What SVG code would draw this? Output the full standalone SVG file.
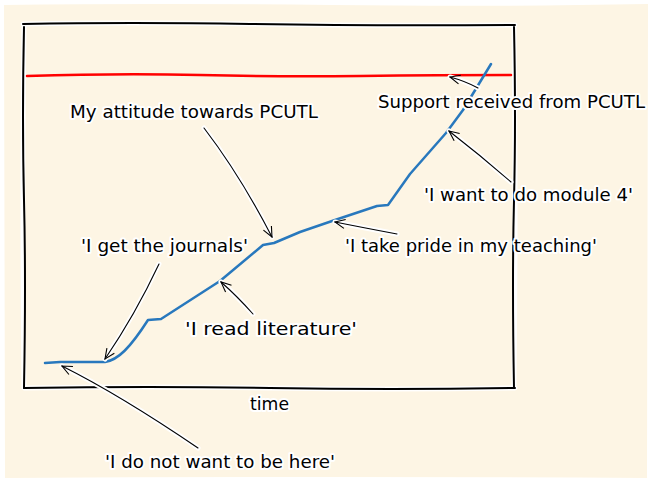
<svg xmlns="http://www.w3.org/2000/svg" width="652" height="481" viewBox="0 0 652 481">
<defs>
<style>
.frame{fill:none;stroke:#000;stroke-width:2;stroke-linecap:round}
.halo{fill:none;stroke:#fff;stroke-width:5;stroke-linecap:round}
.ann{fill:none;stroke:#000;stroke-width:1.1;stroke-linecap:round}
.lbl{font-family:"DejaVu Sans",sans-serif;font-size:18.5px;fill:#000;stroke:#fff;stroke-width:4;paint-order:stroke;stroke-linejoin:round;text-anchor:start}
</style>
<marker id="ah" viewBox="0 0 12 12" refX="11" refY="6" markerWidth="12" markerHeight="12" markerUnits="userSpaceOnUse" orient="auto">
<path d="M1,1.5 L11,6 L1,10.5" fill="none" stroke="#000" stroke-width="1.1"/>
</marker>
</defs>
<rect width="652" height="481" fill="#fff"/>
<path d="M4,5 Q160,3 330,5 T648,4 L647,478 Q330,476 5,478 Z" fill="#fdf5e4"/>
<g id="axes">
<path class="halo" d="M23,24 Q130,22 250,24 T515,25 M24,27 Q22,200 24,388 M24,388 Q150,386 270,388 T515,388 M514,27 Q516,200 514,388"/>
<path class="frame" d="M23,24 Q130,22 250,24 T515,25"/>
<path class="frame" d="M24,27 Q22,120 24,200 T24,388"/>
<path class="frame" d="M24,388 Q150,386 270,388 T515,388"/>
<path class="frame" d="M514,27 Q516,120 514,200 T514,388"/>
</g>
<g id="series">
<path d="M27,76 Q120,73 200,75 T360,76 T511,75" fill="none" stroke="#ff0000" stroke-width="2.5" stroke-linecap="round"/>
<path d="M45,363 L60,362 L105,362 C118,360 130,348 148,320 L161,319 L220,281 L263,245 L274,243 L300,232 L335,220 L377,206 L388,205 L410,174 L446,133 L463,110 L491,64" fill="none" stroke="#2878bd" stroke-width="2.5" stroke-linejoin="round" stroke-linecap="round"/>
</g>
<g id="connectors">
<g class="halo">
<path d="M204,128 Q240,175 272,237"/>
<path d="M478,88 Q465,81 450,77"/>
<path d="M511,182 Q480,155 449,131"/>
<path d="M397,234 Q360,227 335,222"/>
<path d="M159,264 Q135,315 105,359"/>
<path d="M253,314 Q237,296 221,282"/>
<path d="M198,448 Q120,395 62,366"/>
</g>
<path class="ann" marker-end="url(#ah)" d="M204,128 Q240,175 272,237"/>
<path class="ann" marker-end="url(#ah)" d="M478,88 Q465,81 450,77"/>
<path class="ann" marker-end="url(#ah)" d="M511,182 Q480,155 449,131"/>
<path class="ann" marker-end="url(#ah)" d="M397,234 Q360,227 335,222"/>
<path class="ann" marker-end="url(#ah)" d="M159,264 Q135,315 105,359"/>
<path class="ann" marker-end="url(#ah)" d="M253,314 Q237,296 221,282"/>
<path class="ann" marker-end="url(#ah)" d="M198,448 Q120,395 62,366"/>
</g>
<g id="label-attitude"><text class="lbl" x="70" y="118" textLength="248" lengthAdjust="spacingAndGlyphs">My attitude towards PCUTL</text></g>
<g id="label-support"><text class="lbl" x="378" y="108" textLength="267" lengthAdjust="spacingAndGlyphs">Support received from PCUTL</text></g>
<g id="label-module4"><text class="lbl" x="424" y="201" textLength="209" lengthAdjust="spacingAndGlyphs">'I want to do module 4'</text></g>
<g id="label-pride"><text class="lbl" x="345" y="252" textLength="252" lengthAdjust="spacingAndGlyphs">'I take pride in my teaching'</text></g>
<g id="label-journals"><text class="lbl" x="81" y="252" textLength="167" lengthAdjust="spacingAndGlyphs">'I get the journals'</text></g>
<g id="label-literature"><text class="lbl" x="185" y="335" textLength="172" lengthAdjust="spacingAndGlyphs">'I read literature'</text></g>
<g id="label-time"><text class="lbl" x="250" y="410" textLength="39" lengthAdjust="spacingAndGlyphs">time</text></g>
<g id="label-here"><text class="lbl" x="105" y="468" textLength="230" lengthAdjust="spacingAndGlyphs">'I do not want to be here'</text></g>
</svg>
